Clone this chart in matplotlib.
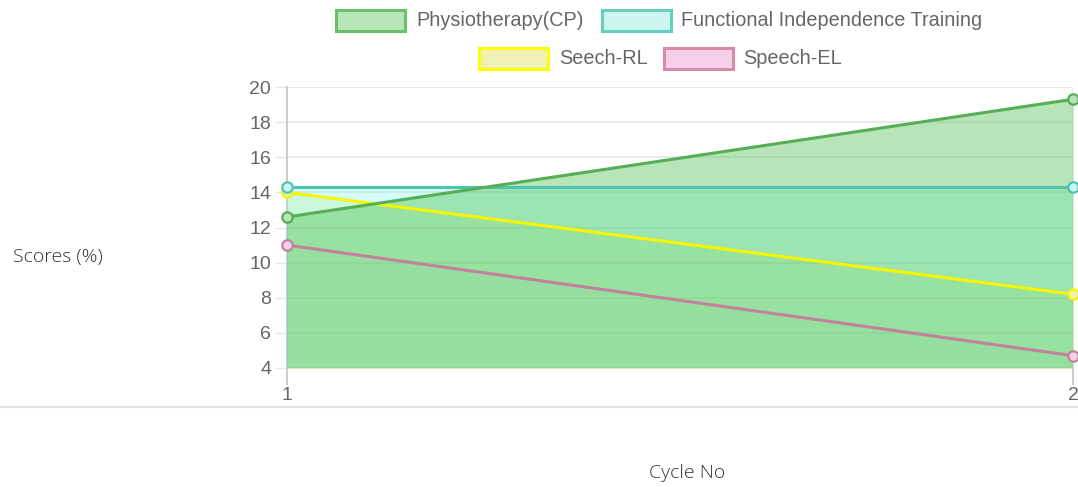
import matplotlib
matplotlib.use("Agg")
import matplotlib.pyplot as plt
from matplotlib.patches import Rectangle
from matplotlib.lines import Line2D

# ---- data ----
cycles = [1, 2]
series_names = ["Physiotherapy(CP)", "Functional Independence Training", "Seech-RL", "Speech-EL"]
physio = [12.6, 19.3]
fit = [14.3, 14.3]
seech_rl = [14.0, 8.2]
speech_el = [11.0, 4.7]
y_ticks = [4, 6, 8, 10, 12, 14, 16, 18, 20]
x_label = "Cycle No"
y_label = "Scores (%)"

values = [physio, fit, seech_rl, speech_el]

# ---- styles ----
line_colors = ["#56ae56", "#50c2b0", "#f6f600", "#c2829a"]
fill_colors = [(75/255, 192/255, 75/255, 0.40),
               (83/255, 251/255, 223/255, 0.25),
               (195/255, 205/255, 40/255, 0.17),
               (235/255, 150/255, 190/255, 0.04)]
marker_faces = ["#b9e6b9", "#cdf5f0", "#eff0b5", "#f5d0e8"]
legend_edges = ["#6abf6a", "#66cfc0", "#ffff00", "#d88aa8"]
legend_faces = ["#b9e6b9", "#cdf5f0", "#eff0b5", "#f5d0e8"]

W, H = 1078, 487
fig = plt.figure(figsize=(W / 100, H / 100), dpi=100)
fig.patch.set_facecolor("white")

left, right, top, bottom = 287, 1073, 87, 368
ax = fig.add_axes([left / W, 1 - bottom / H, (right - left) / W, (bottom - top) / H])
ax.set_xlim(1, 2)
ax.set_ylim(4, 20)
ax.set_axisbelow(True)

# fills (drawn before lines, last dataset first)
for i in reversed(range(len(values))):
    ax.fill_between(cycles, values[i], 4, color=fill_colors[i], linewidth=0, zorder=1)

# lines
for i in reversed(range(len(values))):
    ax.plot(cycles, values[i], color=line_colors[i], linewidth=2.2, marker="o",
            markersize=7.5, markerfacecolor=marker_faces[i], markeredgecolor=line_colors[i],
            markeredgewidth=1.6, zorder=3, clip_on=False)

# grid & axes
ax.set_yticks(y_ticks)
ax.set_xticks(cycles)
ax.set_xticklabels([str(c) for c in cycles])
ax.grid(True, axis="y", color="#e6e6e6", linewidth=1.2)
ax.axvline(2, color="#e6e6e6", linewidth=1.2, zorder=0.5)
for s in ["top", "right", "bottom"]:
    ax.spines[s].set_visible(False)
ax.spines["left"].set_color("#c4c4c4")
ax.spines["left"].set_linewidth(1.2)
ax.spines["left"].set_zorder(0.6)
ax.tick_params(axis="y", length=8.5, width=1.0, color="#e6e6e6", pad=3,
               labelsize=14, labelcolor="#666666")
ax.tick_params(axis="x", length=12, width=1.2, color="#c4c4c4", pad=2,
               labelsize=14, labelcolor="#666666")
for lbl in ax.get_xticklabels() + ax.get_yticklabels():
    lbl.set_fontfamily("Liberation Sans")
ax.set_facecolor("none")

# bottom separator line
fig.add_artist(Line2D([0, 1], [1 - 407 / H, 1 - 407 / H], transform=fig.transFigure,
                      color="#e0e0e0", linewidth=1.6))

# legend (manual, Chart.js style)
legend_layout = [  # (box_left, box_top, text_left)
    (336, 10, 416),
    (602, 10, 681),
    (479, 48, 559),
    (664, 48, 743),
]
bw, bh = 69, 21
for i, (bx, by, tx) in enumerate(legend_layout):
    fig.add_artist(Rectangle((bx / W, 1 - (by + bh) / H), bw / W, bh / H,
                             transform=fig.transFigure, facecolor=legend_faces[i],
                             edgecolor=legend_edges[i], linewidth=2.2))
    fig.text(tx / W, 1 - (by + bh / 2 + 0.5) / H, series_names[i], ha="left", va="center",
             fontsize=14.3, color="#666666", family="Liberation Sans")

# axis titles
fig.text(13 / W, 1 - 257 / H, y_label, ha="left", va="center", fontsize=14,
         color="#333333", family="Open Sans", fontweight="light")
fig.text(687 / W, 1 - 473 / H, x_label, ha="center", va="center", fontsize=14,
         color="#333333", family="Open Sans", fontweight="light")

fig.savefig("out.png", dpi=100, facecolor="white")
